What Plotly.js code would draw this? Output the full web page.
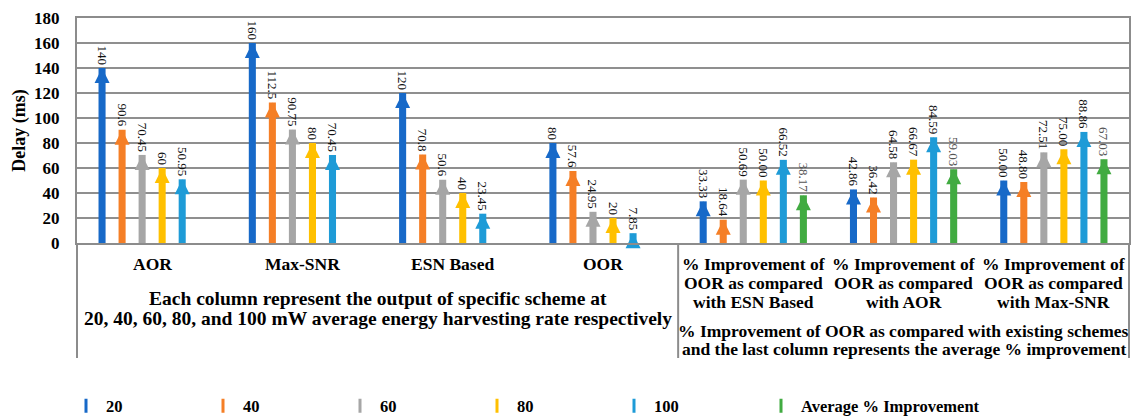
<!DOCTYPE html>
<html>
<head>
<meta charset="utf-8">
<script src="https://cdn.plot.ly/plotly-3.0.1.min.js"></script>
<style>
html,body{margin:0;padding:0;background:#fff;}
#chart{width:1131px;height:417px;}
</style>
</head>
<body>
<div id="chart"></div>
<script>
// ---- data ----
var categories = ["AOR", "Max-SNR", "ESN Based", "OOR",
  "% Improvement of<br>OOR as compared<br>with ESN Based",
  "% Improvement of<br>OOR as compared<br>with AOR",
  "% Improvement of<br>OOR as compared<br>with Max-SNR"];
var seriesNames = ["20", "40", "60", "80", "100", "Average % Improvement"];
var s20  = [140, 160, 120, 80, 33.33, 42.86, 50.00];
var s40  = [90.6, 112.5, 70.8, 57.6, 18.64, 36.42, 48.80];
var s60  = [70.45, 90.75, 50.6, 24.95, 50.69, 64.58, 72.51];
var s80  = [60, 80, 40, 20, 50.00, 66.67, 75.00];
var s100 = [50.95, 70.45, 23.45, 7.85, 66.52, 84.59, 88.86];
var sAvg = [null, null, null, null, 38.17, 59.03, 67.03];
var yTicks = [0, 20, 40, 60, 80, 100, 120, 140, 160, 180];
var leftNote = ["Each column represent the output of specific scheme at",
  "20, 40, 60, 80, and 100 mW average energy harvesting rate respectively"];
var rightNote = ["% Improvement of OOR as compared with existing schemes",
  "and the last column represents the average % improvement"];

// ---- style ----
var colors = ["#1769C8", "#F57F26", "#A6A6A6", "#FFC000", "#1E9BD7", "#41AB41"];
var labelColors = ["#111", "#111", "#111", "#111", "#111", "#555"];
var FONT = "Liberation Serif, Times New Roman, serif";
var allSeries = [s20, s40, s60, s80, s100, sAvg];
var nS = allSeries.length;
var slot = 0.8 / nS;
var plotW = 1052, plotL = 77;
var plotH = 225;              // plot height in px (417 - 18 - 174)
function pxBelow(px) { return -px / plotH; }   // px below the x axis -> paper y

var traces = [];
allSeries.forEach(function (vals, s) {
  var xs = vals.map(function (v, i) { return i + (s - (nS - 1) / 2) * slot; });
  var txt = vals.map(function (v, i) {
    if (v === null) return "";
    return i >= 4 ? v.toFixed(2) : String(v);
  });
  traces.push({
    type: "bar", x: xs, y: vals, width: 0.047,
    marker: {color: colors[s]},
    text: txt, textposition: "outside", textangle: 90,
    constraintext: "none", cliponaxis: false,
    textfont: {family: FONT, size: 13, color: labelColors[s]},
    showlegend: false, hoverinfo: "y"
  });
  traces.push({
    type: "scatter", mode: "markers", x: xs, y: vals,
    marker: {symbol: "arrow-up", size: 15, color: colors[s], line: {width: 0}},
    cliponaxis: false, showlegend: false, hoverinfo: "skip"
  });
});

var legendFont = {family: FONT, size: 16.5, color: "#000", weight: "bold"};
var legendY = (417 - 406) / 417;   // container fraction
var layout = {
  width: 1131, height: 417,
  margin: {l: 77, r: 2, t: 18, b: 174},
  paper_bgcolor: "#fff", plot_bgcolor: "#fff",
  barmode: "overlay",
  showlegend: true,
  font: {family: FONT, color: "#000"},
  xaxis: {
    range: [-0.5, categories.length - 0.5],
    showticklabels: false,
    showgrid: false, zeroline: false,
    showline: true, linecolor: "#8c8c8c", linewidth: 2, mirror: true,
    ticks: "", fixedrange: true
  },
  yaxis: {
    range: [0, 180], tickvals: yTicks,
    tickfont: {family: FONT, size: 17, color: "#000", weight: "bold"},
    showgrid: true, gridcolor: "#8f8f8f", gridwidth: 2,
    zeroline: false, showline: true, linecolor: "#8c8c8c", linewidth: 2, mirror: true,
    ticks: "", ticklabelstandoff: 12,
    title: {text: "Delay (ms)", font: {family: FONT, size: 18, color: "#000", weight: "bold"}, standoff: 4},
    fixedrange: true
  }
};

// legend: one single-entry legend per series, placed side by side
seriesNames.forEach(function (n, s) {
  var key = s === 0 ? "legend" : "legend" + (s + 1);
  var textStart = s < 5 ? 106 + 137 * s : 801;
  layout[key] = {
    orientation: "h", x: (textStart - 40 - plotL) / plotW, xanchor: "left",
    yref: "container", y: legendY, yanchor: "middle",
    font: legendFont, bgcolor: "rgba(0,0,0,0)", borderwidth: 0
  };
  traces.push({
    type: "scatter", mode: "markers", x: [null], y: [null], name: n, legend: key,
    marker: {symbol: "line-ns", size: 10, color: colors[s], line: {width: 3, color: colors[s]}},
    showlegend: true, hoverinfo: "skip"
  });
});

var annotations = [];
categories.forEach(function (c, i) {
  c.split("<br>").forEach(function (line, k) {
    annotations.push({xref: "x", yref: "paper", x: i, y: pxBelow(21 + 19 * k), yanchor: "middle",
      showarrow: false, text: line,
      font: {family: FONT, size: 17.5, color: "#000", weight: "bold"}});
  });
});
leftNote.forEach(function (line, k) {
  annotations.push({xref: "x", yref: "paper", x: 1.5, y: pxBelow(55 + 20 * k), yanchor: "middle",
    showarrow: false, text: line, font: {family: FONT, size: 19.5, color: "#000", weight: "bold"}});
});
rightNote.forEach(function (line, k) {
  annotations.push({xref: "x", yref: "paper", x: 5, y: pxBelow(88 + 18 * k), yanchor: "middle",
    showarrow: false, text: line, font: {family: FONT, size: 17.5, color: "#000", weight: "bold"}});
});
layout.annotations = annotations;

var yBottom = pxBelow(115);
layout.shapes = [
  {type: "line", xref: "paper", yref: "paper", x0: 0, x1: 0, y0: 0, y1: yBottom, line: {color: "#8c8c8c", width: 2}},
  {type: "line", xref: "x", yref: "paper", x0: 3.5, x1: 3.5, y0: 0, y1: yBottom, line: {color: "#8c8c8c", width: 2}},
  {type: "line", xref: "paper", yref: "paper", x0: 1, x1: 1, y0: 0, y1: yBottom, line: {color: "#8c8c8c", width: 2}}
];

Plotly.newPlot("chart", traces, layout, {staticPlot: true, displayModeBar: false});
</script>
</body>
</html>
